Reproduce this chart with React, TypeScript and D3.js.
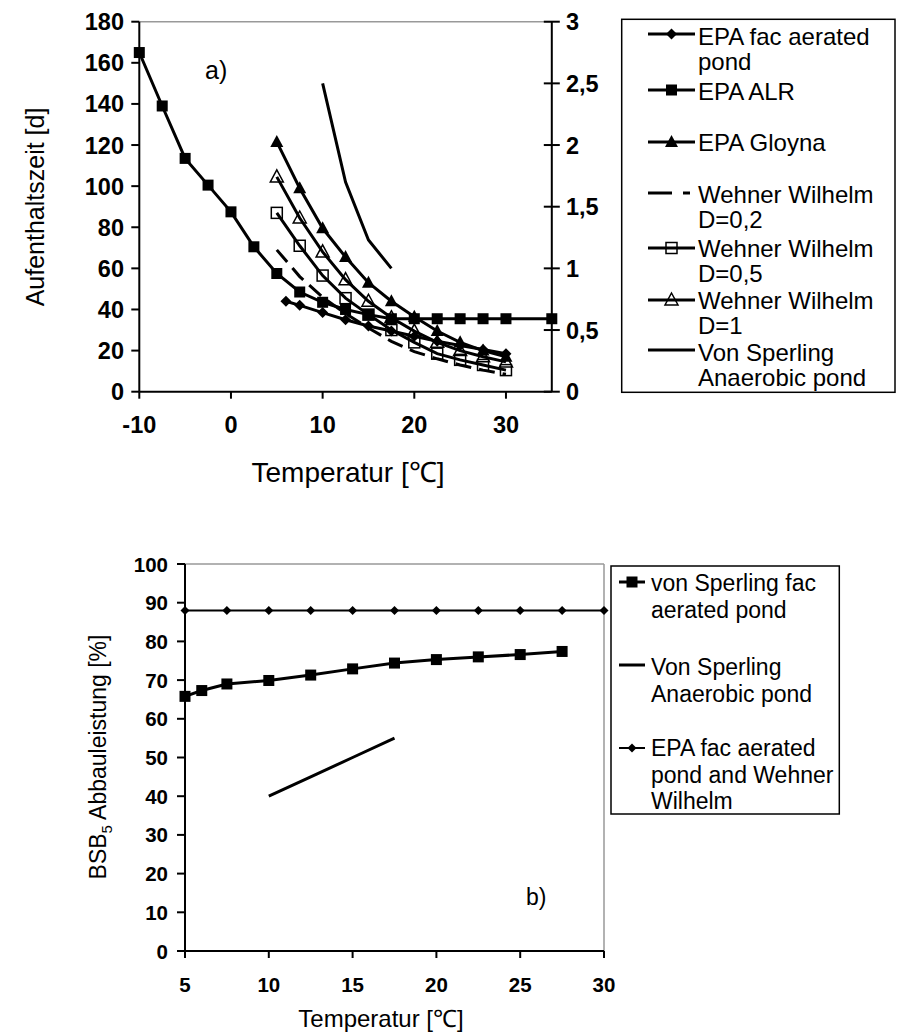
import React from "react";
import * as d3 from "d3";

// ---------- Chart a) data ----------
const epaFacX = [6, 7.5, 10, 12.5, 15, 17.5, 20, 22.5, 25, 27.5, 30];
const epaFacY = [44, 42, 38.5, 35, 32, 29.5, 27, 24.5, 22.5, 20.5, 18.5];
const alrX = [-10, -7.5, -5, -2.5, 0, 2.5, 5, 7.5, 10, 12.5, 15, 17.5, 20, 22.5, 25, 27.5, 30, 35];
const alrY = [165, 139, 113.5, 100.5, 87.5, 70.5, 57.5, 48.5, 43.5, 40, 37.5, 35.5, 35.5, 35.5, 35.5, 35.5, 35.5, 35.5];
const wwX = [5, 7.5, 10, 12.5, 15, 17.5, 20, 22.5, 25, 27.5, 30];
const gloynaY = [121.5, 99, 79.5, 65.5, 53, 44, 36.5, 29.5, 24, 20, 17];
const ww02Y = [69, 56, 46, 38, 31, 24.5, 19.5, 16, 13, 10.5, 8.5];
const ww05Y = [87, 71, 56.5, 45.5, 37.5, 30, 24, 18.5, 15.5, 13, 10.5];
const ww1Y = [104.5, 84.5, 68, 54.5, 44, 36, 29.5, 24, 20, 17, 14.5];
const vsAnaTopX = [10, 12.5, 15, 17.5];
const vsAnaTopY = [2.5, 1.7, 1.23, 1.0]; // right axis
const aLeftTicks = [0, 20, 40, 60, 80, 100, 120, 140, 160, 180];
const aRightTicks = [0, 0.5, 1, 1.5, 2, 2.5, 3];
const aRightLabels = ["0", "0,5", "1", "1,5", "2", "2,5", "3"];
const aXTicks = [-10, 0, 10, 20, 30];

// ---------- Chart b) data ----------
const vsFacX = [5, 6, 7.5, 10, 12.5, 15, 17.5, 20, 22.5, 25, 27.5];
const vsFacY = [65.8, 67.3, 69, 69.9, 71.3, 72.9, 74.4, 75.3, 76, 76.6, 77.4];
const vsAnaX = [10, 12.5, 15, 17.5];
const vsAnaY = [40, 45, 50, 55];
const epaWWX = [5, 7.5, 10, 12.5, 15, 17.5, 20, 22.5, 25, 27.5, 30];
const epaWWY = [88, 88, 88, 88, 88, 88, 88, 88, 88, 88, 88];
const bYTicks = [0, 10, 20, 30, 40, 50, 60, 70, 80, 90, 100];
const bXTicks = [5, 10, 15, 20, 25, 30];

const FONT = "'Liberation Sans', Arial, Helvetica, sans-serif";

type Pt = [number, number];

function Marker({ kind, x, y }: { kind: string; x: number; y: number }) {
  if (kind === "square") return <rect x={x - 5.5} y={y - 5.5} width={11} height={11} fill="#000" />;
  if (kind === "osquare")
    return <rect x={x - 5.5} y={y - 5.5} width={11} height={11} fill="none" stroke="#000" strokeWidth={1.5} />;
  if (kind === "diamond")
    return <path d={`M${x},${y - 5.5}L${x + 5.5},${y}L${x},${y + 5.5}L${x - 5.5},${y}Z`} fill="#000" />;
  if (kind === "sdiamond")
    return <path d={`M${x},${y - 4.5}L${x + 4.5},${y}L${x},${y + 4.5}L${x - 4.5},${y}Z`} fill="#000" />;
  if (kind === "triangle")
    return <path d={`M${x},${y - 7}L${x + 6.5},${y + 5}L${x - 6.5},${y + 5}Z`} fill="#000" />;
  if (kind === "otriangle")
    return (
      <path d={`M${x},${y - 7}L${x + 6.5},${y + 5}L${x - 6.5},${y + 5}Z`} fill="none" stroke="#000" strokeWidth={1.5} />
    );
  return null;
}

export default function App() {
  // ---- scales a)
  const ax = d3.scaleLinear().domain([-10, 35]).range([139.3, 551.8]);
  const ay = d3.scaleLinear().domain([0, 180]).range([391.7, 21.7]);
  const ayR = d3.scaleLinear().domain([0, 3]).range([391.7, 21.7]);
  // ---- scales b)
  const bx = d3.scaleLinear().domain([5, 30]).range([185, 604]);
  const by = d3.scaleLinear().domain([0, 100]).range([951, 564]);

  const lineA = d3.line<Pt>().x((d) => ax(d[0])).y((d) => ay(d[1]));
  const lineAR = d3.line<Pt>().x((d) => ax(d[0])).y((d) => ayR(d[1]));
  const lineB = d3.line<Pt>().x((d) => bx(d[0])).y((d) => by(d[1]));

  const zip = (xs: number[], ys: number[]): Pt[] => xs.map((x, i) => [x, ys[i]]);

  const seriesA = [
    { pts: zip(epaFacX, epaFacY), marker: "diamond", dash: undefined as string | undefined },
    { pts: zip(alrX, alrY), marker: "square", dash: undefined },
    { pts: zip(wwX, gloynaY), marker: "triangle", dash: undefined },
    { pts: zip(wwX, ww02Y), marker: "", dash: "16,8" },
    { pts: zip(wwX, ww05Y), marker: "osquare", dash: undefined },
    { pts: zip(wwX, ww1Y), marker: "otriangle", dash: undefined },
  ];

  const legendA = [
    { lines: ["EPA fac aerated", "pond"], marker: "diamond", sy: 34, ty: 37 },
    { lines: ["EPA ALR"], marker: "square", sy: 90, ty: 92 },
    { lines: ["EPA Gloyna"], marker: "triangle", sy: 142, ty: 143 },
    { lines: ["Wehner Wilhelm", "D=0,2"], marker: "dash", sy: 193, ty: 195 },
    { lines: ["Wehner Wilhelm", "D=0,5"], marker: "osquare", sy: 248, ty: 249 },
    { lines: ["Wehner Wilhelm", "D=1"], marker: "otriangle", sy: 300, ty: 301 },
    { lines: ["Von Sperling", "Anaerobic pond"], marker: "", sy: 350, ty: 353 },
  ];

  const legendB = [
    { lines: ["von Sperling fac", "aerated pond"], marker: "square", sy: 582, ty: 583 },
    { lines: ["Von Sperling", "Anaerobic pond"], marker: "", sy: 665, ty: 667 },
    { lines: ["EPA fac aerated", "pond and Wehner", "Wilhelm"], marker: "sdiamond", sy: 748, ty: 748 },
  ];

  return (
    <svg
      width={904}
      height={1036}
      style={{ position: "absolute", left: 0, top: 0, display: "block", background: "#fff" }}
      fontFamily={FONT}
    >
      <rect x={0} y={0} width={904} height={1036} fill="#fff" />

      {/* ================= Chart a) ================= */}
      <line x1={ax(-10)} x2={ax(35)} y1={ay(180)} y2={ay(180)} stroke="#999" strokeWidth={1.5} />
      {/* left axis */}
      <line x1={ax(-10)} x2={ax(-10)} y1={ay(0)} y2={ay(180)} stroke="#000" strokeWidth={2} />
      {aLeftTicks.map((t) => (
        <g key={"al" + t}>
          <line x1={ax(-10) - 8} x2={ax(-10)} y1={ay(t)} y2={ay(t)} stroke="#000" strokeWidth={2} />
          <text x={124} y={ay(t) + 8.5} textAnchor="end" fontSize={23.5} fontWeight="bold">
            {t}
          </text>
        </g>
      ))}
      {/* right axis */}
      <line x1={ax(35)} x2={ax(35)} y1={ay(0)} y2={ay(180)} stroke="#000" strokeWidth={2} />
      {aRightTicks.map((t, i) => (
        <g key={"ar" + t}>
          <line x1={ax(35) - 8} x2={ax(35) + 8} y1={ayR(t)} y2={ayR(t)} stroke="#000" strokeWidth={2} />
          <text x={566} y={ayR(t) + 8.5} textAnchor="start" fontSize={23.5} fontWeight="bold">
            {aRightLabels[i]}
          </text>
        </g>
      ))}
      {/* x axis */}
      <line x1={ax(-10)} x2={ax(35)} y1={ay(0)} y2={ay(0)} stroke="#000" strokeWidth={2} />
      {aXTicks.map((t) => (
        <g key={"ax" + t}>
          <line x1={ax(t)} x2={ax(t)} y1={ay(0)} y2={ay(0) + 7} stroke="#000" strokeWidth={2} />
          <text x={ax(t)} y={433} textAnchor="middle" fontSize={23.5} fontWeight="bold">
            {t}
          </text>
        </g>
      ))}
      <text x={348} y={482} textAnchor="middle" fontSize={28}>
        Temperatur [℃]
      </text>
      <text transform={`translate(44,207) rotate(-90)`} textAnchor="middle" fontSize={25}>
        Aufenthaltszeit [d]
      </text>
      <text x={205} y={79} fontSize={25}>
        a)
      </text>

      {seriesA.map((s, i) => (
        <g key={"sa" + i}>
          <path d={lineA(s.pts) || ""} fill="none" stroke="#000" strokeWidth={3} strokeDasharray={s.dash} />
          {s.marker && s.pts.map((p, j) => <Marker key={j} kind={s.marker} x={ax(p[0])} y={ay(p[1])} />)}
        </g>
      ))}
      <path d={lineAR(zip(vsAnaTopX, vsAnaTopY)) || ""} fill="none" stroke="#000" strokeWidth={3} />

      {/* legend a) */}
      <rect x={621.7} y={19.3} width={273.3} height={373} fill="#fff" stroke="#000" strokeWidth={1.5} />
      {legendA.map((e, i) => (
        <g key={"la" + i}>
          {e.marker === "dash" ? (
            <g>
              <line x1={648} x2={672} y1={e.sy} y2={e.sy} stroke="#000" strokeWidth={3} />
              <line x1={683} x2={690} y1={e.sy} y2={e.sy} stroke="#000" strokeWidth={3} />
            </g>
          ) : (
            <line x1={648} x2={695} y1={e.sy} y2={e.sy} stroke="#000" strokeWidth={3} />
          )}
          {e.marker && e.marker !== "dash" && <Marker kind={e.marker} x={671.5} y={e.sy} />}
          {e.lines.map((l, k) => (
            <text key={k} x={698} y={e.ty + 8 + k * 25} fontSize={24}>
              {l}
            </text>
          ))}
        </g>
      ))}

      {/* ================= Chart b) ================= */}
      <line x1={bx(5)} x2={bx(30)} y1={by(100)} y2={by(100)} stroke="#999" strokeWidth={1.5} />
      <line x1={bx(30)} x2={bx(30)} y1={by(100)} y2={by(0)} stroke="#999" strokeWidth={1.5} />
      <line x1={bx(5)} x2={bx(5)} y1={by(0)} y2={by(100)} stroke="#000" strokeWidth={2} />
      {bYTicks.map((t) => (
        <g key={"by" + t}>
          <line x1={bx(5) - 8} x2={bx(5)} y1={by(t)} y2={by(t)} stroke="#000" strokeWidth={2} />
          <text x={168} y={by(t) + 7.5} textAnchor="end" fontSize={20.5} fontWeight="bold">
            {t}
          </text>
        </g>
      ))}
      <line x1={bx(5)} x2={bx(30)} y1={by(0)} y2={by(0)} stroke="#000" strokeWidth={2} />
      {bXTicks.map((t) => (
        <g key={"bx" + t}>
          <line x1={bx(t)} x2={bx(t)} y1={by(0)} y2={by(0) + 7} stroke="#000" strokeWidth={2} />
          <text x={bx(t)} y={992} textAnchor="middle" fontSize={20.5} fontWeight="bold">
            {t}
          </text>
        </g>
      ))}
      <text x={381} y={1027} textAnchor="middle" fontSize={24}>
        Temperatur [℃]
      </text>
      <text transform={`translate(106,757) rotate(-90)`} textAnchor="middle" fontSize={23}>
        BSB
        <tspan fontSize={15} dy={6}>
          5
        </tspan>
        <tspan dy={-6}> Abbauleistung [%]</tspan>
      </text>
      <text x={526} y={905} fontSize={23}>
        b)
      </text>

      <path d={lineB(zip(vsFacX, vsFacY)) || ""} fill="none" stroke="#000" strokeWidth={3} />
      {zip(vsFacX, vsFacY).map((p, j) => (
        <Marker key={"vf" + j} kind="square" x={bx(p[0])} y={by(p[1])} />
      ))}
      <path d={lineB(zip(vsAnaX, vsAnaY)) || ""} fill="none" stroke="#000" strokeWidth={3} />
      <path d={lineB(zip(epaWWX, epaWWY)) || ""} fill="none" stroke="#000" strokeWidth={2} />
      {zip(epaWWX, epaWWY).map((p, j) => (
        <Marker key={"ew" + j} kind="sdiamond" x={bx(p[0])} y={by(p[1])} />
      ))}

      {/* legend b) */}
      <rect x={611} y={566} width={228.3} height={248} fill="#fff" stroke="#000" strokeWidth={1.5} />
      {legendB.map((e, i) => (
        <g key={"lb" + i}>
          <line x1={619} x2={645} y1={e.sy} y2={e.sy} stroke="#000" strokeWidth={e.marker === "sdiamond" ? 2 : 3} />
          {e.marker && <Marker kind={e.marker} x={632} y={e.sy} />}
          {e.lines.map((l, k) => (
            <text key={k} x={651} y={e.ty + 8 + k * 26.5} fontSize={23}>
              {l}
            </text>
          ))}
        </g>
      ))}
    </svg>
  );
}
